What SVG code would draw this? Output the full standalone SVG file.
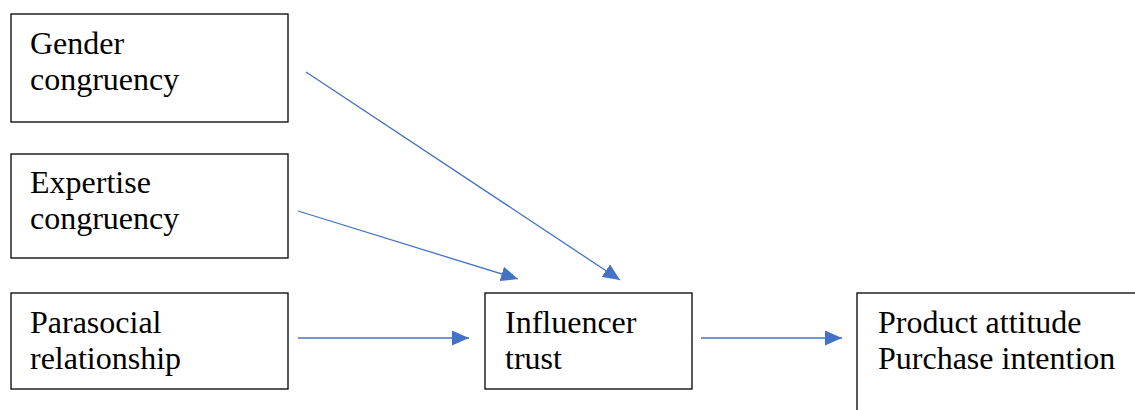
<svg xmlns="http://www.w3.org/2000/svg" width="1135" height="410" viewBox="0 0 1135 410">
<style>
.box{fill:#fff;stroke:#000;stroke-width:1.3}
text{font-family:'Liberation Serif','Times New Roman',Times,serif;font-size:32px;fill:#000}
.c{stroke:#4472C4;stroke-width:1.3;fill:none;marker-end:url(#ah)}
</style>
<defs>
<marker id="ah" viewBox="0 0 10 10" refX="10" refY="5" markerWidth="17" markerHeight="15" markerUnits="userSpaceOnUse" orient="auto" preserveAspectRatio="none">
<path d="M0,0 L10,5 L0,10 z" fill="#4472C4"/>
</marker>
</defs>
<rect width="1135" height="410" fill="#fff"/>
<g id="gender">
<rect class="box" x="11" y="14" width="277" height="108"/>
<text x="30" y="54">Gender</text>
<text x="30" y="90">congruency</text>
</g>
<g id="expertise">
<rect class="box" x="11" y="154" width="277" height="104"/>
<text x="30" y="193">Expertise</text>
<text x="30" y="229">congruency</text>
</g>
<g id="parasocial">
<rect class="box" x="11" y="293" width="277" height="96"/>
<text x="30" y="333">Parasocial</text>
<text x="30" y="369">relationship</text>
</g>
<g id="trust">
<rect class="box" x="485" y="293" width="207" height="96"/>
<text x="505" y="333">Influencer</text>
<text x="505" y="369">trust</text>
</g>
<g id="outcome">
<rect class="box" x="857" y="293" width="290" height="130"/>
<text x="878" y="333">Product attitude</text>
<text x="878" y="369">Purchase intention</text>
</g>
<g id="connectors">
<line class="c" x1="306" y1="72" x2="620" y2="280"/>
<line class="c" x1="298" y1="211" x2="518" y2="279"/>
<line class="c" x1="298" y1="338" x2="469" y2="338"/>
<line class="c" x1="701" y1="338" x2="842" y2="338"/>
</g>
</svg>
